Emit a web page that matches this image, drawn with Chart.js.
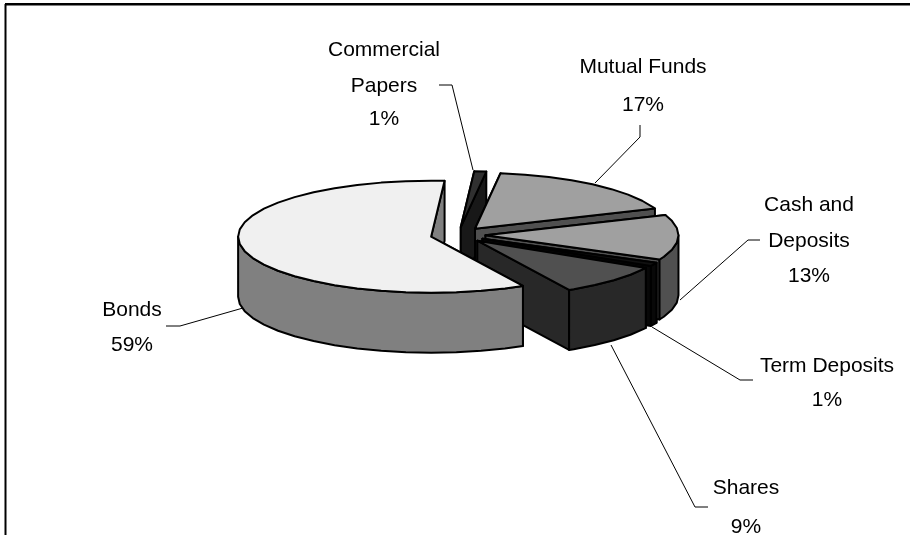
<!DOCTYPE html>
<html><head><meta charset="utf-8">
<style>html,body{margin:0;padding:0;background:#fff}canvas{display:block}</style>
<script src="https://cdn.jsdelivr.net/npm/chart.js@4"></script>
</head><body><div style="width:910px;height:535px"><canvas id="c"></canvas></div>
<script>
const categories = ['Commercial Papers','Mutual Funds','Cash and Deposits','Term Deposits','Shares','Bonds'];
const shares = [1,17,13,1,9,59];
const topColors = ['#303030','#a0a0a0','#a0a0a0','#101010','#505050','#f0f0f0'];
const sideColors = ['#181818','#505050','#505050','#080808','#282828','#808080'];
const labelLines = [['Commercial','Papers','1%'],['Mutual Funds','17%'],['Cash and','Deposits','13%'],['Term Deposits','1%'],['Shares','9%'],['Bonds','59%']];
const labelAnchors = [[384,[50,86,119]],[643,[67,105]],[809,[205,241,276]],[827,[366,400]],[746,[488,527]],[132,[310,345]]];
const leaders = [
 [[439,85],[452,85],[473,170]],
 [[640,125],[640,137],[595,183]],
 [[760,240],[748,240],[680,300]],
 [[753,380],[740,380],[652,327]],
 [[708,507],[695,507],[611,345]],
 [[166,326],[180,326],[243,308]]
];
const SQUASH = 0.29, EXPLODE = 27.5, DEPTH = 60, FACET = Math.PI/24;

function geom(arc){
  const p = arc.getProps(['x','y','startAngle','endAngle','outerRadius'], true);
  const mid = (p.startAngle+p.endAngle)/2;
  return {cx:p.x, cy:p.y, s:p.startAngle, e:p.endAngle, r:p.outerRadius,
    vx:p.x+Math.cos(mid)*EXPLODE, vy:p.y+Math.sin(mid)*EXPLODE*SQUASH};
}
function rim(g,a){return [g.vx+Math.cos(a)*g.r, g.vy+Math.sin(a)*g.r*SQUASH];}
function rimAngles(a0,a1){
  const out=[a0];
  for(let k=Math.ceil(a0/FACET);k*FACET<a1;k++){ if(k*FACET>a0) out.push(k*FACET); }
  out.push(a1);
  return out;
}
function face(ctx,g,a,fill){
  const [x,y]=rim(g,a);
  ctx.beginPath();ctx.moveTo(g.vx,g.vy);ctx.lineTo(x,y);ctx.lineTo(x,y+DEPTH);ctx.lineTo(g.vx,g.vy+DEPTH);ctx.closePath();
  ctx.fillStyle=fill;ctx.fill();ctx.stroke();
}
const pie3d = {
  id:'pie3d',
  beforeDatasetDraw(chart){
    const ctx=chart.ctx, arcs=chart.getDatasetMeta(0).data;
    ctx.save();
    ctx.lineWidth=2;ctx.strokeStyle='#000';ctx.lineJoin='round';
    arcs.forEach((arc,i)=>{
      const g=geom(arc), side=sideColors[i];
      face(ctx,g,g.s,side);face(ctx,g,g.e,side);
      const a0=Math.max(g.s,0), a1=Math.min(g.e,Math.PI);
      if(a1>a0){
        const pts=rimAngles(a0,a1).map(a=>rim(g,a));
        ctx.beginPath();
        pts.forEach((p,j)=>j?ctx.lineTo(p[0],p[1]):ctx.moveTo(p[0],p[1]));
        pts.slice().reverse().forEach(p=>ctx.lineTo(p[0],p[1]+DEPTH));
        ctx.closePath();ctx.fillStyle=side;ctx.fill();ctx.stroke();
      }
    });
    arcs.forEach((arc)=>{
      const g=geom(arc);
      ctx.save();
      ctx.translate(g.vx,g.vy);ctx.scale(1,SQUASH);ctx.translate(-g.cx,-g.cy);
      arc.draw(ctx);
      ctx.restore();
      ctx.beginPath();ctx.moveTo(g.vx,g.vy);
      rimAngles(g.s,g.e).forEach(a=>{const p=rim(g,a);ctx.lineTo(p[0],p[1]);});
      ctx.closePath();ctx.stroke();
    });
    ctx.restore();
    return false;
  },
  afterDraw(chart){
    const ctx=chart.ctx;
    ctx.save();
    ctx.strokeStyle='#000';ctx.lineWidth=1;
    leaders.forEach(l=>{ctx.beginPath();l.forEach((p,i)=>i?ctx.lineTo(p[0],p[1]):ctx.moveTo(p[0],p[1]));ctx.stroke();});
    ctx.fillStyle='#000';ctx.font='21px "Liberation Sans", Arial, sans-serif';ctx.textAlign='center';ctx.textBaseline='middle';
    labelLines.forEach((lines,i)=>lines.forEach((t,j)=>ctx.fillText(t,labelAnchors[i][0],labelAnchors[i][1][j])));
    ctx.fillStyle='#808080';ctx.fillRect(4,4,1,531);
    ctx.fillStyle='#000';ctx.fillRect(5,5,1.5,530);ctx.fillRect(5,3,905,2.5);
    ctx.restore();
  }
};
new Chart(document.getElementById('c'),{
  type:'pie',
  data:{labels:categories,datasets:[{data:shares,backgroundColor:topColors,borderWidth:0,hoverOffset:0}]},
  options:{responsive:true,maintainAspectRatio:false,animation:false,rotation:4,
    layout:{padding:{left:265,right:259,top:42,bottom:107}},
    plugins:{legend:{display:false},tooltip:{enabled:false}}},
  plugins:[pie3d]
});
</script></body></html>
